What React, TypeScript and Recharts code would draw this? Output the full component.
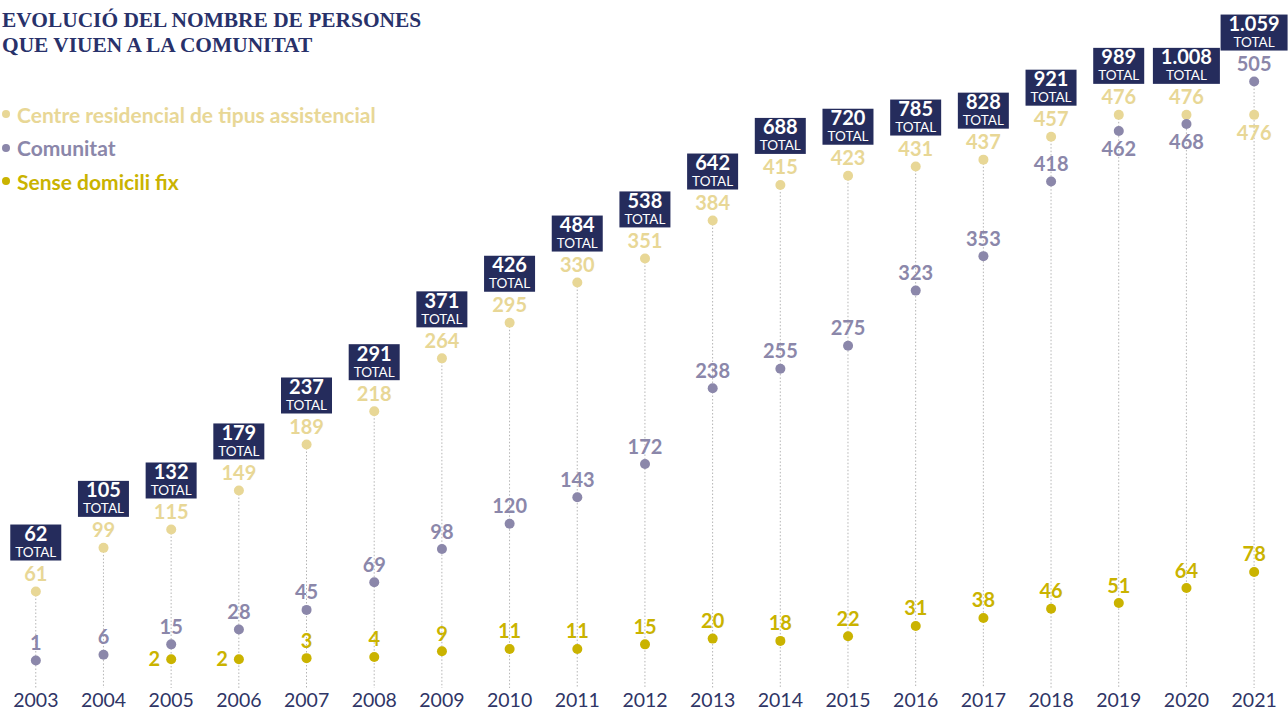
import { ComposedChart, Bar, Line, XAxis, YAxis, LabelList } from 'recharts'

const years = ['2003', '2004', '2005', '2006', '2007', '2008', '2009', '2010', '2011', '2012', '2013', '2014', '2015', '2016', '2017', '2018', '2019', '2020', '2021']
const centre = [61, 99, 115, 149, 189, 218, 264, 295, 330, 351, 384, 415, 423, 431, 437, 457, 476, 476, 476]
const comunitat = [1, 6, 15, 28, 45, 69, 98, 120, 143, 172, 238, 255, 275, 323, 353, 418, 462, 468, 505]
const sense = [null, null, 2, 2, 3, 4, 9, 11, 11, 15, 20, 18, 22, 31, 38, 46, 51, 64, 78]
const totals = [62, 105, 132, 179, 237, 291, 371, 426, 484, 538, 642, 688, 720, 785, 828, 921, 989, 1008, 1059]

const C_CENTRE = '#e8d796'
const C_COM = '#8b87aa'
const C_SENSE = '#cab300'
const NAVY = '#252c5c'
const FONT = 'Lato, "Open Sans", sans-serif'
const PLOT_BOTTOM = 688

const data = years.map((year, i) => ({
  year,
  centre: centre[i],
  comunitat: comunitat[i],
  sense: sense[i],
  total: totals[i],
  top: Math.max(centre[i], comunitat[i]),
}))

// 1008 -> "1.008"
const fmt = (n: number) =>
  n >= 1000 ? `${Math.floor(n / 1000)}.${String(n % 1000).padStart(3, '0')}` : String(n)

// dotted stem + TOTAL box
const Stem = (props: any) => {
  const { x, y, width, payload } = props
  const cx = x + width / 2
  const txt = fmt(payload.total)
  const bw = txt.length > 3 ? 67 : 51
  const bottom = y - 31
  return (
    <g>
      <line x1={cx} x2={cx} y1={y} y2={PLOT_BOTTOM} stroke="#b4b4b4" strokeWidth={1} strokeDasharray="1.5 2" />
      <rect x={cx - bw / 2} y={bottom - 36} width={bw} height={36} fill={NAVY} />
      <text x={cx} y={bottom - 19.5} textAnchor="middle" fill="#fff" fontFamily={FONT} fontWeight={700} fontSize={20}>
        {txt}
      </text>
      <text x={cx} y={bottom - 3.5} textAnchor="middle" fill="#fff" fontFamily={FONT} fontSize={13.5}>
        TOTAL
      </text>
    </g>
  )
}

const makeLabel = (key: 'centre' | 'comunitat' | 'sense', color: string) => (props: any) => {
  const { x, y, value, index } = props
  if (value == null) return null
  const c = centre[index]
  const m = comunitat[index]
  let pos = 'above'
  if (key === 'centre' && m > c) pos = 'below'
  if (key === 'comunitat' && m < c && c - m < 30) pos = 'below'
  if (key === 'sense' && m - value < 30) pos = 'left'
  const common = { fill: color, fontFamily: FONT, fontWeight: 700, fontSize: 20 }
  if (pos === 'left')
    return <text x={x - 11} y={y + 7} textAnchor="end" {...common}>{value}</text>
  if (pos === 'below')
    return <text x={x} y={y + 25} textAnchor="middle" {...common}>{value}</text>
  return <text x={x} y={y - 10.5} textAnchor="middle" {...common}>{value}</text>
}

const YearTick = (props: any) => {
  const { x, payload } = props
  return (
    <text x={x} y={PLOT_BOTTOM + 19} textAnchor="middle" fill="#2f3566" fontFamily={FONT} fontSize={19.5}>
      {payload.value}
    </text>
  )
}

const legend = [
  { name: 'Centre residencial de tipus assistencial', color: C_CENTRE },
  { name: 'Comunitat', color: C_COM },
  { name: 'Sense domicili fix', color: C_SENSE },
]

export default function App() {
  return (
    <div style={{ position: 'relative', width: 1288, height: 712 }}>
      <style>{'body{margin:0}'}</style>
      <div
        style={{
          position: 'absolute',
          left: 2,
          top: 8,
          fontFamily: '"Liberation Serif", serif',
          fontWeight: 700,
          fontSize: 21.4,
          lineHeight: '24.5px',
          color: '#28316a',
        }}
      >
        EVOLUCIÓ DEL NOMBRE DE PERSONES
        <br />
        QUE VIUEN A LA COMUNITAT
      </div>
      <div style={{ position: 'absolute', left: 2, top: 97.5, fontFamily: FONT, fontWeight: 700, fontSize: 21 }}>
        {legend.map((l) => (
          <div key={l.name} style={{ display: 'flex', alignItems: 'center', height: 33.5, color: l.color }}>
            <span
              style={{ width: 8, height: 8, borderRadius: 4, background: l.color, marginRight: 7, display: 'inline-block' }}
            />
            {l.name}
          </div>
        ))}
      </div>
      <ComposedChart width={1288} height={712} data={data} margin={{ top: 0, right: 0, left: 2, bottom: 0 }}>
        <XAxis dataKey="year" axisLine={false} tickLine={false} tickSize={0} tickMargin={0} height={24} tick={<YearTick />} interval={0} />
        <YAxis hide type="number" domain={[-23, 576]} allowDataOverflow />
        <Bar dataKey="top" shape={<Stem />} isAnimationActive={false} />
        <Line dataKey="centre" stroke="none" dot={{ r: 5, fill: C_CENTRE, stroke: 'none' }} activeDot={false} isAnimationActive={false}>
          <LabelList dataKey="centre" content={makeLabel('centre', C_CENTRE)} />
        </Line>
        <Line dataKey="comunitat" stroke="none" dot={{ r: 5, fill: C_COM, stroke: 'none' }} activeDot={false} isAnimationActive={false}>
          <LabelList dataKey="comunitat" content={makeLabel('comunitat', C_COM)} />
        </Line>
        <Line dataKey="sense" stroke="none" dot={{ r: 5, fill: C_SENSE, stroke: 'none' }} activeDot={false} isAnimationActive={false}>
          <LabelList dataKey="sense" content={makeLabel('sense', C_SENSE)} />
        </Line>
      </ComposedChart>
    </div>
  )
}
